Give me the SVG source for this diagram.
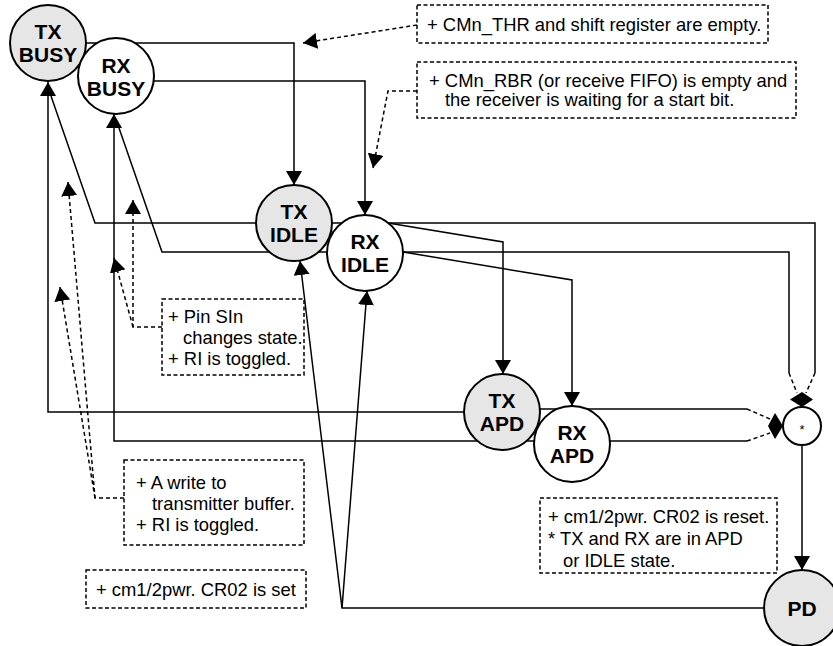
<svg xmlns="http://www.w3.org/2000/svg" width="833" height="646" viewBox="0 0 833 646">
<style>
.ln{fill:none;stroke:#000;stroke-width:1.5}
.ds{fill:none;stroke:#000;stroke-width:1.5;stroke-dasharray:4 3}
.box{fill:#fff;stroke:#000;stroke-width:1.5;stroke-dasharray:4 2.5}
.nd{stroke:#000;stroke-width:2}
.g{fill:#e6e6e6}
.w{fill:#fff}
.lbl{font-family:"Liberation Sans",Arial,sans-serif;font-weight:bold;font-size:21px;text-anchor:middle}
.t{font-family:"Liberation Sans",Arial,sans-serif;font-size:18.4px}
</style>
<defs>
<marker id="arr" viewBox="0 0 14 16" refX="14" refY="8" markerWidth="14" markerHeight="16" markerUnits="userSpaceOnUse" orient="auto">
<path d="M0,0 L14,8 L0,16 z" fill="#000"/>
</marker>
</defs>
<rect width="833" height="646" fill="#fff"/>
<g id="connectors">
<path class="ln" d="M86,43 H294 V185" marker-end="url(#arr)"/>
<path class="ln" d="M150,81 H365 V215" marker-end="url(#arr)"/>
<path class="ln" d="M260,223 H95 L51,96"/>
<path class="ln" d="M330,252 H162 L119,128"/>
<path class="ln" d="M470,412 H48 V82" marker-end="url(#arr)"/>
<path class="ln" d="M540,441 H114 V114" marker-end="url(#arr)"/>
<path class="ln" d="M388,223 L503,242 V374" marker-end="url(#arr)"/>
<path class="ln" d="M300,223 H815 V373"/>
<path class="ds" d="M815,373 L806,393"/>
<path class="ln" d="M365,252 H789 V373"/>
<path class="ds" d="M789,373 L797,393"/>
<path class="ln" d="M403,252 L572,280 V406" marker-end="url(#arr)"/>
<path class="ln" d="M535,409 H747"/>
<path class="ds" d="M747,409 L770,419"/>
<path class="ln" d="M600,441 H747"/>
<path class="ds" d="M747,441 L770,433"/>
<polygon points="768,426 775,413 783,426 775,439" fill="#000"/>
<polygon points="790,399.5 802,392 813,399.5 802,407" fill="#000"/>
<path class="ln" d="M802,445 V570" marker-end="url(#arr)"/>
<path class="ln" d="M770,608 H342 L300,261" marker-end="url(#arr)"/>
<path class="ln" d="M342,608 L367,291" marker-end="url(#arr)"/>
<path class="ds" d="M417,25 L303,43" marker-end="url(#arr)"/>
<path class="ds" d="M417,91 H388 L373,168" marker-end="url(#arr)"/>
<path class="ds" d="M162,327 H133 V200" marker-end="url(#arr)"/>
<path class="ds" d="M133,327 L114,258" marker-end="url(#arr)"/>
<path class="ds" d="M124,498 H95 L68,182" marker-end="url(#arr)"/>
<path class="ds" d="M95,498 L60,287" marker-end="url(#arr)"/>
</g>
<g id="tx_busy">
<circle class="nd g" cx="48" cy="43" r="38"/>
<text class="lbl" x="48" y="38.5">TX<tspan x="48" dy="23.5">BUSY</tspan></text>
</g>
<g id="rx_busy">
<circle class="nd w" cx="116" cy="76" r="38"/>
<text class="lbl" x="116" y="72.5">RX<tspan x="116" dy="23.5">BUSY</tspan></text>
</g>
<g id="tx_idle">
<circle class="nd g" cx="294" cy="223" r="38"/>
<text class="lbl" x="294" y="218.5">TX<tspan x="294" dy="23.5">IDLE</tspan></text>
</g>
<g id="rx_idle">
<circle class="nd w" cx="365" cy="253" r="38"/>
<text class="lbl" x="365" y="248.5">RX<tspan x="365" dy="23.5">IDLE</tspan></text>
</g>
<g id="tx_apd">
<circle class="nd g" cx="502" cy="412" r="38"/>
<text class="lbl" x="502" y="407.5">TX<tspan x="502" dy="23.5">APD</tspan></text>
</g>
<g id="rx_apd">
<circle class="nd w" cx="572" cy="444" r="38"/>
<text class="lbl" x="572" y="439.5">RX<tspan x="572" dy="23.5">APD</tspan></text>
</g>
<g id="star">
<circle class="nd w" cx="802" cy="426" r="19"/>
<text x="802" y="434" font-family="Liberation Sans,Arial,sans-serif" font-size="13" text-anchor="middle">*</text>
</g>
<g id="pd">
<circle class="nd g" cx="802" cy="608" r="38"/>
<text class="lbl" x="802" y="616">PD</text>
</g>
<g id="note_thr">
<rect class="box" x="417" y="5" width="351" height="38"/>
<text class="t" x="427" y="31">+ CMn_THR and shift register are empty.</text>
</g>
<g id="note_rbr">
<rect class="box" x="417" y="62" width="379" height="56"/>
<text class="t" x="429" y="87">+ CMn_RBR (or receive FIFO) is empty and<tspan x="445" dy="19">the receiver is waiting for a start bit.</tspan></text>
</g>
<g id="note_sin">
<rect class="box" x="162" y="299" width="142" height="76"/>
<text class="t" x="168" y="323">+ Pin SIn<tspan x="183" dy="21">changes state.</tspan><tspan x="168" dy="21">+ RI is toggled.</tspan></text>
</g>
<g id="note_write">
<rect class="box" x="124" y="460" width="180" height="85"/>
<text class="t" x="136" y="489">+ A write to<tspan x="152" dy="21">transmitter buffer.</tspan><tspan x="136" dy="21">+ RI is toggled.</tspan></text>
</g>
<g id="note_set">
<rect class="box" x="86" y="570" width="220" height="38"/>
<text class="t" x="96" y="596">+ cm1/2pwr. CR02 is set</text>
</g>
<g id="note_reset">
<rect class="box" x="540" y="498" width="237" height="75"/>
<text class="t" x="548" y="523">+ cm1/2pwr. CR02 is reset.<tspan x="548" dy="22">* TX and RX are in APD</tspan><tspan x="563" dy="22">or IDLE state.</tspan></text>
</g>
</svg>
